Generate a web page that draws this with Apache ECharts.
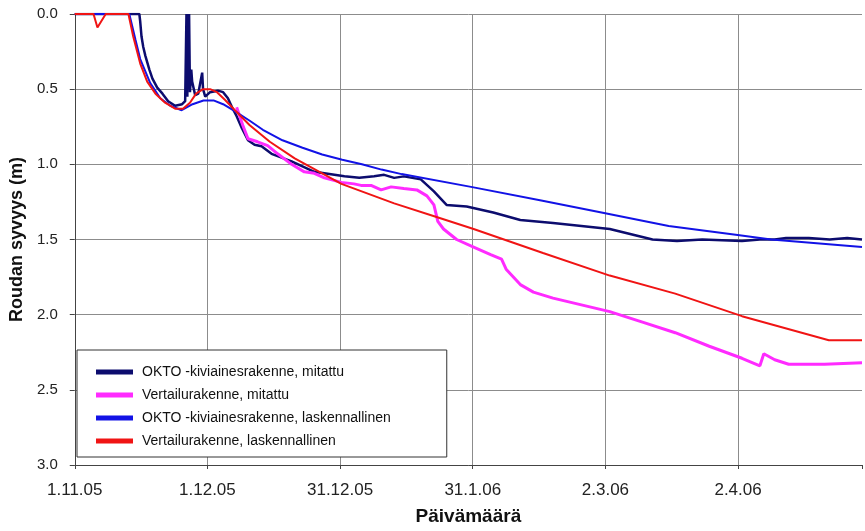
<!DOCTYPE html>
<html>
<head>
<meta charset="utf-8">
<script src="https://cdn.jsdelivr.net/npm/echarts@6/dist/echarts.min.js"></script>
<style>
  html, body { margin: 0; padding: 0; background: #fff; }
  #main { width: 865px; height: 531px; }
</style>
</head>
<body>
<div id="main"></div>
<script>
// x = days since 1.11.05, y = frost depth (m)
const tickLabels = ['1.11.05', '1.12.05', '31.12.05', '31.1.06', '2.3.06', '2.4.06'];
const tickStep = 30.4;

const oktoMitattu = [
    [0, 0], [14.8, 0], [15.0, 0.05], [15.3, 0.15], [15.7, 0.22], [16.2, 0.28], [17.1, 0.37], [17.8, 0.43],
    [18.9, 0.49], [20.1, 0.53], [21.4, 0.58], [23.0, 0.61], [24.6, 0.6], [25.3, 0.58], [25.5, 0.57],
    [25.6, 0], [25.8, 0.55], [25.9, 0], [26.1, 0.5], [26.2, 0], [26.4, 0.52], [26.7, 0.37], [26.9, 0.45],
    [27.6, 0.54], [28.3, 0.53], [29.2, 0.39], [29.4, 0.5], [29.9, 0.55], [31.0, 0.52], [32.8, 0.51],
    [34.0, 0.52], [35.1, 0.56], [36.2, 0.63], [37.1, 0.68], [38.3, 0.76], [39.7, 0.84], [41.2, 0.87],
    [42.8, 0.88], [45.1, 0.93], [49.7, 0.98], [54.9, 1.05], [61.8, 1.08], [65.2, 1.09], [68.6, 1.08],
    [70.9, 1.07], [73.2, 1.09], [75.4, 1.08], [79.3, 1.1], [82.3, 1.18], [85.2, 1.27], [89.8, 1.28],
    [95.9, 1.32], [102.1, 1.37], [109.6, 1.39], [122.6, 1.43], [132.4, 1.5], [138.0, 1.51], [143.8, 1.5],
    [152.9, 1.51], [157.0, 1.5], [160.4, 1.5], [163.0, 1.49], [168.2, 1.49], [173.0, 1.5], [177.0, 1.49],
    [180.4, 1.5]
];

const vertailuMitattu = [
    [37.1, 0.62], [37.4, 0.63], [38.5, 0.74], [39.7, 0.83], [41.9, 0.85], [44.2, 0.875], [46.5, 0.93],
    [49.7, 1.0], [52.6, 1.05], [54.9, 1.06], [57.2, 1.09], [61.1, 1.12], [64.0, 1.13], [65.6, 1.14],
    [67.9, 1.14], [70.2, 1.17], [72.5, 1.15], [75.4, 1.16], [78.4, 1.17], [80.7, 1.21], [82.3, 1.27],
    [83.2, 1.38], [84.5, 1.43], [87.5, 1.5], [91.4, 1.55], [95.3, 1.6], [97.8, 1.63], [98.9, 1.7],
    [102.1, 1.8], [105.1, 1.85], [109.6, 1.89], [122.6, 1.98], [130.1, 2.05], [137.6, 2.12],
    [145.4, 2.21], [152.9, 2.29], [157.0, 2.34], [157.9, 2.26], [160.4, 2.3], [163.6, 2.33],
    [171.8, 2.33], [180.4, 2.32]
];

const oktoLaskettu = [
    [0, 0], [12.5, 0], [13.9, 0.17], [15.0, 0.3], [17.3, 0.46], [19.6, 0.56], [21.9, 0.61], [24.5, 0.64],
    [27.0, 0.6], [29.5, 0.575], [31.8, 0.575], [34.0, 0.6], [36.3, 0.64], [40.1, 0.71], [43.1, 0.77],
    [47.6, 0.84], [52.2, 0.89], [56.7, 0.935], [61.3, 0.97], [65.8, 1.0], [70.3, 1.035], [74.9, 1.065],
    [90.8, 1.15], [106.9, 1.24], [120.7, 1.32], [136.1, 1.41], [151.9, 1.47], [159.6, 1.5], [180.4, 1.55]
];

const vertailuLaskettu = [
    [0, 0], [4.3, 0], [5.2, 0.09], [7.1, 0], [12.3, 0], [13.4, 0.15], [15.0, 0.33], [16.6, 0.45],
    [18.5, 0.53], [20.7, 0.59], [23.0, 0.63], [24.8, 0.63], [26.4, 0.59], [27.8, 0.53], [29.4, 0.5],
    [31.0, 0.5], [32.6, 0.52], [34.4, 0.57], [36.7, 0.64], [40.1, 0.74], [44.7, 0.85], [50.4, 0.96],
    [61.1, 1.13], [73.2, 1.26], [82.9, 1.35], [91.4, 1.43], [107.3, 1.59], [122.6, 1.74], [137.6, 1.86],
    [152.9, 2.01], [172.8, 2.17], [180.4, 2.17]
];

const seriesNames = [
    'OKTO -kiviainesrakenne, mitattu',
    'Vertailurakenne, mitattu',
    'OKTO -kiviainesrakenne, laskennallinen',
    'Vertailurakenne, laskennallinen'
];

let chart = echarts.init(document.getElementById('main'));

function lineSeries(name, data, color, width) {
    return {
        name: name,
        type: 'line',
        data: data,
        showSymbol: false,
        symbol: 'none',
        itemStyle: { color: color },
        lineStyle: { color: color, width: width }
    };
}

let option = {
    animation: false,
    backgroundColor: '#fff',
    textStyle: { fontFamily: 'Liberation Sans, Arial, sans-serif' },
    grid: { left: 70, top: 14, right: 0, bottom: 59 },
    legend: {
        data: seriesNames,
        orient: 'vertical',
        left: 77,
        top: 350,
        padding: [15, 56, 9, 19],
        itemGap: 9,
        itemWidth: 37,
        itemHeight: 5,
        icon: 'rect',
        backgroundColor: '#fff',
        borderColor: '#333',
        borderWidth: 1,
        textStyle: { fontSize: 14, color: '#111', padding: [0, 0, 0, 4] }
    },
    xAxis: {
        type: 'value',
        min: 0,
        max: 180.4,
        interval: tickStep,
        name: 'Päivämäärä',
        nameLocation: 'middle',
        nameGap: 42,
        nameTextStyle: { fontSize: 19, fontWeight: 'bold', color: '#111' },
        axisLine: { onZero: false, lineStyle: { color: '#444', width: 1 } },
        axisTick: { show: true, length: 4, lineStyle: { color: '#444' } },
        axisLabel: {
            fontSize: 17,
            color: '#222',
            margin: 17,
            formatter: function (v) {
                let i = Math.round(v / tickStep);
                if (Math.abs(v - i * tickStep) < 0.01 && i < tickLabels.length) return tickLabels[i];
                return '';
            }
        },
        splitLine: { show: true, showMaxLine: false, lineStyle: { color: '#8c8c8c', width: 1 } }
    },
    yAxis: {
        type: 'value',
        inverse: true,
        min: 0,
        max: 3,
        interval: 0.5,
        name: 'Roudan syvyys (m)',
        nameLocation: 'middle',
        nameGap: 36,
        nameTextStyle: { fontSize: 18, fontWeight: 'bold', color: '#111' },
        axisLine: { show: true, lineStyle: { color: '#444', width: 1 } },
        axisTick: { show: true, length: 5, lineStyle: { color: '#444' } },
        axisLabel: {
            fontSize: 15,
            color: '#222',
            margin: 17,
            formatter: function (v) { return v.toFixed(1); }
        },
        splitLine: { show: true, lineStyle: { color: '#8c8c8c', width: 1 } }
    },
    series: [
        lineSeries(seriesNames[0], oktoMitattu, '#0c0c6e', 2.5),
        lineSeries(seriesNames[1], vertailuMitattu, '#ff2bff', 3),
        lineSeries(seriesNames[2], oktoLaskettu, '#1212e6', 2),
        lineSeries(seriesNames[3], vertailuLaskettu, '#f01414', 2)
    ]
};

chart.setOption(option);
</script>
</body>
</html>
